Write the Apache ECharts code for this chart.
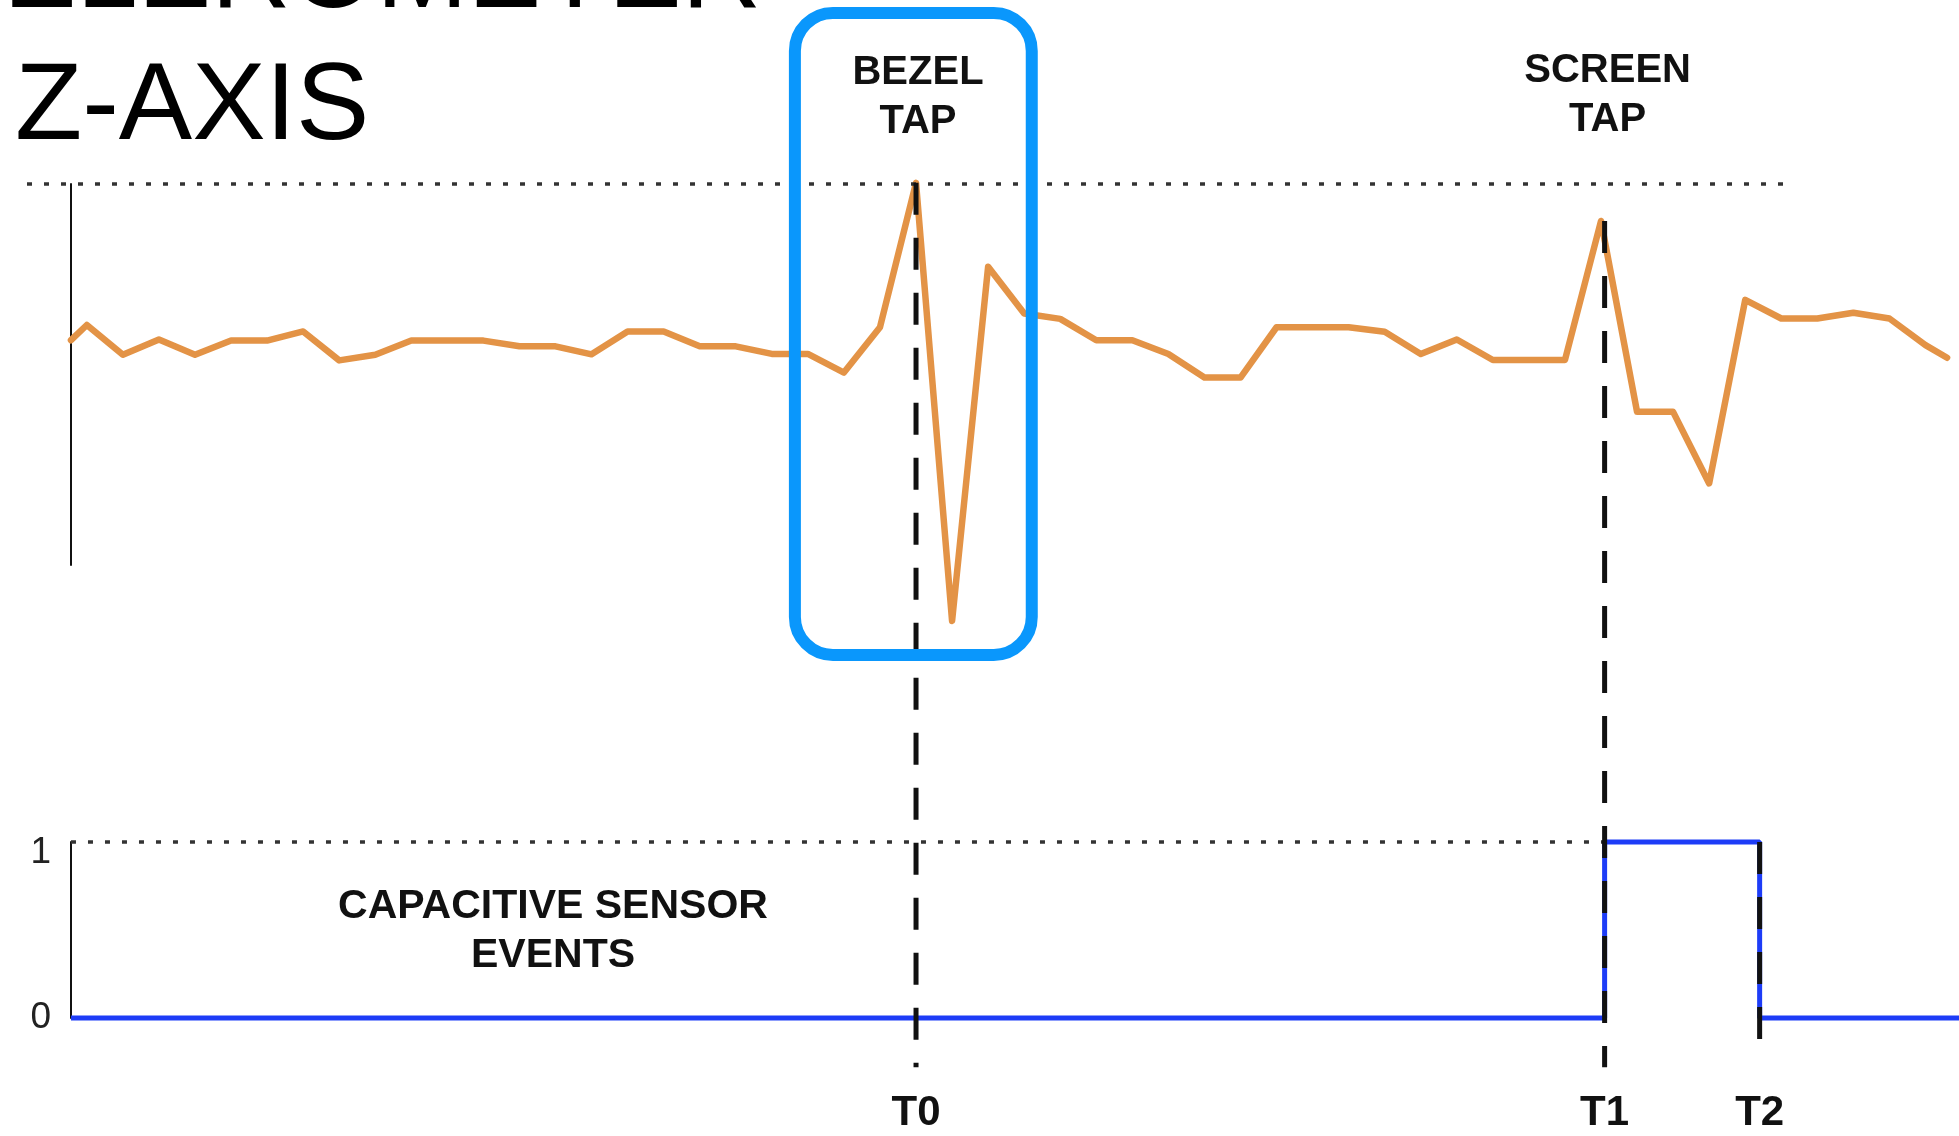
<!DOCTYPE html>
<html><head><meta charset="utf-8">
<script src="https://cdn.jsdelivr.net/npm/echarts@6/dist/echarts.min.js"></script>
<style>html,body{margin:0;padding:0;background:#fff;overflow:hidden}#c{width:1959px;height:1136px}</style>
</head><body><div id="c"></div>
<script>
// ---- data (time in sample units, accel in relative units) ----
const accelTime = [-0.44, 0, 1, 2, 3, 4, 5, 6, 7, 8, 9, 10, 11, 12, 13, 14, 15, 16, 17, 18, 19, 20,
  21, 22, 23, 24, 25, 26, 27, 28, 29, 30, 31, 32, 33, 34, 35, 36, 37, 38, 39, 40, 41, 42, 43, 44, 45,
  46, 47, 48, 49, 50, 51, 51.6];
const accelValue = [59.0, 63.0, 55.2, 59.2, 55.2, 58.9, 58.9, 61.3, 53.7, 55.2, 58.9, 58.9, 58.9, 57.4,
  57.4, 55.3, 61.3, 61.3, 57.4, 57.4, 55.4, 55.4, 50.5, 62.4, 100.3, -14.7, 78.3, 66.0, 64.6, 59.0, 59.0,
  55.4, 49.2, 49.2, 62.4, 62.4, 62.4, 61.2, 55.4, 59.2, 53.8, 53.8, 53.8, 90.3, 40.2, 40.2, 21.4, 69.6,
  64.7, 64.7, 66.2, 64.7, 57.7, 54.4];
const sensorTime = [-0.44, 42.1, 42.1, 46.4, 46.4, 51.93];
const sensorValue = [0, 0, 1, 1, 0, 0];
const markerNames = ['T0', 'T1', 'T2'];
const markerTime = [23, 42.1, 46.4];
const markerTopValue = [100.3, 90.3, 1];
const markerTopGrid = [0, 0, 1];
const markerBottomValue = [-0.28, -0.28, -0.17];
const tapLabels = ['BEZEL\nTAP', 'SCREEN\nTAP'];
const sensorLabel = 'CAPACITIVE SENSOR\nEVENTS';
const titleLines = ['ACCELEROMETER', 'Z-AXIS'];
const sensorTicks = ['0', '1'];
const accelRefLevel = 100;
const bezelBoxX = [19.64, 26.21];
const bezelBoxY = [144.9, -23.6];

const X_MIN = -1.66, X_MAX = 51.93;
const FONT = '"Liberation Sans", Arial, Helvetica, sans-serif';

const chart = echarts.init(document.getElementById('c'), null, {renderer: 'canvas'});
const hiddenX = (gi) => ({type: 'value', gridIndex: gi, min: X_MIN, max: X_MAX, show: false,
  axisLine: {onZero: false}, splitLine: {show: false}});
const yBase = {
  axisLine: {show: true, onZero: false, lineStyle: {color: '#111', width: 2}},
  axisTick: {show: false}, splitLine: {show: false}, offset: -44
};
const dotted = {color: '#333', width: 3.5, type: [5, 12], cap: 'butt'};

chart.setOption({
  animation: false,
  backgroundColor: '#fff',
  grid: [
    {left: 27, right: 0, top: 184, height: 381},
    {left: 27, right: 0, top: 842, height: 176}
  ],
  xAxis: [hiddenX(0), hiddenX(1)],
  yAxis: [
    Object.assign({type: 'value', gridIndex: 0, min: 0, max: 100, axisLabel: {show: false}}, yBase),
    Object.assign({type: 'value', gridIndex: 1, min: 0, max: 1, interval: 1,
      axisLabel: {show: true, margin: 20, color: '#222', fontSize: 37, fontFamily: FONT,
        formatter: (v) => v === 1 ? '{low|' + sensorTicks[v] + '}' : sensorTicks[v],
        rich: {low: {padding: [22, 0, 0, 0], fontSize: 37, color: '#222', fontFamily: FONT}}}}, yBase)
  ],
  series: [
    {
      type: 'line', xAxisIndex: 0, yAxisIndex: 0, clip: false, symbol: 'none',
      data: accelTime.map((t, i) => [t, accelValue[i]]),
      lineStyle: {color: '#e39346', width: 6.5, join: 'round', cap: 'round'},
      z: 3,
      markLine: {
        silent: true, symbol: 'none', label: {show: false}, lineStyle: dotted,
        data: [[{coord: [X_MIN, accelRefLevel]}, {coord: [47.32, accelRefLevel]}]]
      }
    },
    {
      type: 'line', xAxisIndex: 1, yAxisIndex: 1, clip: false, symbol: 'none',
      data: sensorTime.map((t, i) => [t, sensorValue[i]]),
      lineStyle: {color: '#1d3cf7', width: 5},
      z: 3,
      markLine: {
        silent: true, symbol: 'none', label: {show: false}, lineStyle: dotted,
        data: [[{coord: [sensorTime[0], 1]}, {coord: [sensorTime[1], 1]}]]
      }
    }
  ]
});

function px(g, x, y) { return chart.convertToPixel({xAxisIndex: g, yAxisIndex: g}, [x, y]); }

const elements = [];
// dashed event markers
markerTime.forEach((t, i) => {
  const top = px(markerTopGrid[i], t, markerTopValue[i]);
  const bot = px(1, t, markerBottomValue[i]);
  elements.push({type: 'line', z: 50, silent: true,
    shape: {x1: top[0], y1: top[1], x2: bot[0], y2: bot[1]},
    style: {stroke: '#111', lineWidth: 5, lineDash: [32, 23]}});
  elements.push({type: 'text', z: 60, silent: true, x: bot[0], y: 1113,
    style: {text: markerNames[i], font: 'bold 42px ' + FONT, fill: '#111', align: 'center', verticalAlign: 'middle'}});
});
// bezel box
const b1 = px(0, bezelBoxX[0], bezelBoxY[0]);
const b2 = px(0, bezelBoxX[1], bezelBoxY[1]);
elements.push({type: 'rect', z: 70, silent: true,
  shape: {x: b1[0], y: b1[1], width: b2[0] - b1[0], height: b2[1] - b1[1], r: 38},
  style: {fill: null, stroke: '#0a97fc', lineWidth: 12}});
// tap labels
const tapCenters = [[px(0, markerTime[0], 0)[0] + 2, 97], [px(0, markerTime[1], 0)[0] + 3, 95]];
tapLabels.forEach((txt, i) => {
  elements.push({type: 'text', z: 60, silent: true, x: tapCenters[i][0], y: tapCenters[i][1],
    style: {text: txt, font: 'bold 40px ' + FONT, lineHeight: 49, fill: '#111', align: 'center', verticalAlign: 'middle'}});
});
// sensor label
elements.push({type: 'text', z: 60, silent: true, x: 553, y: 931,
  style: {text: sensorLabel, font: 'bold 41px ' + FONT, lineHeight: 49, fill: '#111', align: 'center', verticalAlign: 'middle'}});
// title lines
elements.push({type: 'text', z: 60, silent: true, x: -229, y: -23,
  style: {text: titleLines[0], font: '110px ' + FONT, fill: '#000', align: 'left', verticalAlign: 'middle'}});
elements.push({type: 'text', z: 60, silent: true, x: 15, y: 109,
  style: {text: titleLines[1], font: '110px ' + FONT, fill: '#000', align: 'left', verticalAlign: 'middle'}});

chart.setOption({graphic: {elements: elements}});
</script>
</body></html>
